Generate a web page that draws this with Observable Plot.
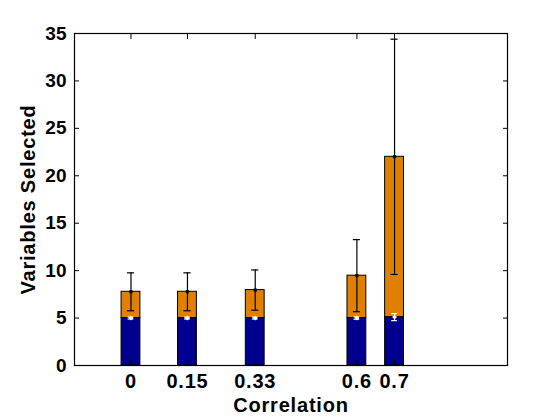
<!DOCTYPE html>
<html>
<head>
<meta charset="utf-8">
<script src="https://cdn.jsdelivr.net/npm/d3@7"></script>
<script src="https://cdn.jsdelivr.net/npm/@observablehq/plot@0.6"></script>
<style>
  html, body { margin: 0; padding: 0; background: #fff; }
  #chart { width: 560px; height: 420px; }
</style>
</head>
<body>
<div id="chart"></div>
<script>
// Data
const correlation = [0, 0.15, 0.33, 0.6, 0.7];
const baseMean = [5, 5, 5, 5, 5.1];
const baseStd = [0.1, 0.1, 0.1, 0.12, 0.37];
const totalMean = [7.77, 7.77, 7.95, 9.47, 22.0];
const totalStd = [2.0, 2.0, 2.12, 3.8, 12.4];
const yTicks = [0, 5, 10, 15, 20, 25, 30, 35];
const xLabel = "Correlation";
const yLabel = "Variables Selected";

const blue = "#00008f";
const orange = "#e08000";
const halfBar = 0.025;
const halfCap = 0.0095;

const rows = correlation.map((c, i) => ({
  c, base: baseMean[i], bs: baseStd[i], total: totalMean[i], ts: totalStd[i]
}));

const font = "'Liberation Sans', Arial, Helvetica, sans-serif";

const chart = Plot.plot({
  width: 560,
  height: 420,
  marginLeft: 74,
  marginRight: 53,
  marginTop: 33,
  marginBottom: 55,
  style: { fontFamily: font, fontWeight: "bold", fontSize: "20px", color: "black", background: "white", overflow: "visible" },
  x: { domain: [-0.15, 1] },
  y: { domain: [0, 35] },
  marks: [
    // stacked bars
    Plot.rectY(rows, { x1: d => d.c - halfBar, x2: d => d.c + halfBar, y1: 0, y2: "base", fill: blue, stroke: "black", strokeWidth: 1 }),
    Plot.rectY(rows, { x1: d => d.c - halfBar, x2: d => d.c + halfBar, y1: "base", y2: "total", fill: orange, stroke: "black", strokeWidth: 1 }),
    // white error bars on the blue part
    Plot.ruleX(rows, { x: "c", y1: d => d.base - d.bs, y2: d => d.base + d.bs, stroke: "white", strokeWidth: 1.2 }),
    Plot.ruleY(rows, { y: d => d.base - d.bs, x1: d => d.c - halfCap * 0.8, x2: d => d.c + halfCap * 0.8, stroke: "white", strokeWidth: 1.2 }),
    Plot.ruleY(rows, { y: d => d.base + d.bs, x1: d => d.c - halfCap * 0.8, x2: d => d.c + halfCap * 0.8, stroke: "white", strokeWidth: 1.2 }),
    Plot.dot(rows, { x: "c", y: "base", r: 2.2, fill: "white", stroke: "none", symbol: "diamond2" }),
    // black error bars on the totals
    Plot.ruleX(rows, { x: "c", y1: d => d.total - d.ts, y2: d => d.total + d.ts, stroke: "black", strokeWidth: 1.2 }),
    Plot.ruleY(rows, { y: d => d.total - d.ts, x1: d => d.c - halfCap, x2: d => d.c + halfCap, stroke: "black", strokeWidth: 1.2 }),
    Plot.ruleY(rows, { y: d => d.total + d.ts, x1: d => d.c - halfCap, x2: d => d.c + halfCap, stroke: "black", strokeWidth: 1.2 }),
    Plot.dot(rows, { x: "c", y: "total", r: 1.8, fill: "black", stroke: "none", symbol: "square" }),
    // frame
    Plot.frame({ stroke: "black", strokeWidth: 1.2 }),
    // inward ticks
    Plot.axisY(yTicks, { anchor: "left", tickSize: -5, fill: "none", label: null, stroke: "black" }),
    Plot.axisY(yTicks, { anchor: "right", tickSize: -5, fill: "none", label: null, stroke: "black" }),
    Plot.axisX(correlation, { anchor: "bottom", tickSize: -5, fill: "none", label: null, stroke: "black" }),
    Plot.axisX(correlation, { anchor: "top", tickSize: -5, fill: "none", label: null, stroke: "black" }),
    // tick labels
    Plot.axisY(yTicks, { anchor: "left", tickSize: 0, tickPadding: 8, label: null, fill: "black" }),
    Plot.axisX(correlation, { anchor: "bottom", tickSize: 0, tickPadding: 8, label: null, fill: "black", tickFormat: d => String(d) }),
    // axis titles
    Plot.text([xLabel], { frameAnchor: "bottom", dy: 46, lineAnchor: "bottom", textAnchor: "middle", text: d => d, fill: "black" }),
    Plot.text([yLabel], { frameAnchor: "left", dx: -40, rotate: -90, lineAnchor: "bottom", textAnchor: "middle", text: d => d, fill: "black" })
  ]
});

const svg = d3.select(chart);
svg.selectAll("g[aria-label='y-axis tick label'] text").style("font-size", "19px");
svg.selectAll("g[aria-label='x-axis tick label'] text").style("font-size", "20px").style("letter-spacing", "0.8px");
svg.selectAll("g[aria-label='text'] text").style("font-size", "20px").style("letter-spacing", "0.8px");

document.getElementById("chart").appendChild(chart);
</script>
</body>
</html>
